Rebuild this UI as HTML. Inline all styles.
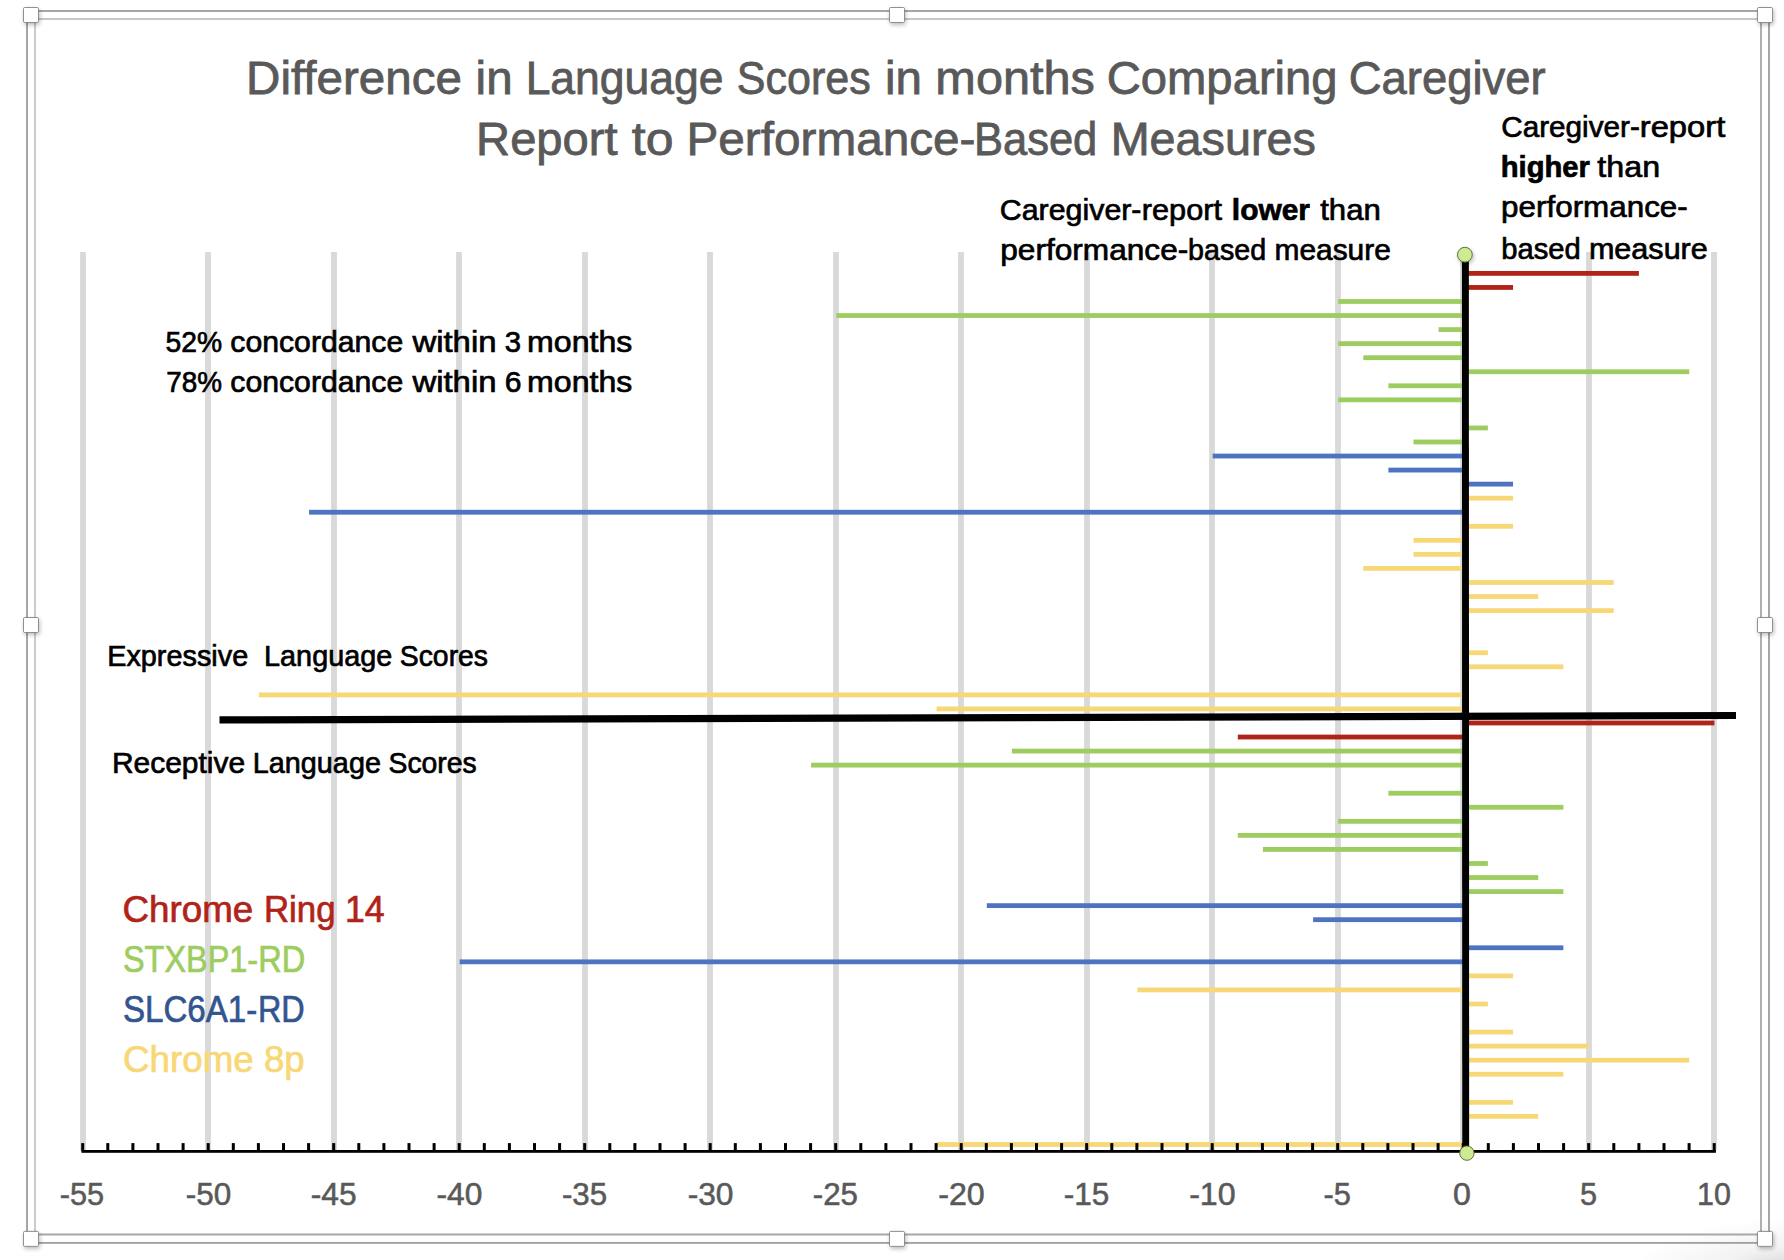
<!DOCTYPE html>
<html lang="en"><head><meta charset="utf-8"><title>Difference in Language Scores</title>
<style>html,body{margin:0;padding:0;background:#fff}body{width:1784px;height:1260px;overflow:hidden}svg{display:block}text{font-family:"Liberation Sans",Arial,sans-serif}</style></head><body>
<svg width="1784" height="1260" viewBox="0 0 1784 1260">
<defs><linearGradient id="bg" x1="0" y1="0" x2="1" y2="1"><stop offset="0" stop-color="#fff"/><stop offset="0.5" stop-color="#fff"/><stop offset="1" stop-color="#e9e9e9"/></linearGradient><radialGradient id="cs"><stop offset="0" stop-color="#000" stop-opacity="0.17"/><stop offset="0.45" stop-color="#000" stop-opacity="0.05"/><stop offset="1" stop-color="#000" stop-opacity="0"/></radialGradient><filter id="sh" x="-50%" y="-50%" width="200%" height="200%"><feGaussianBlur in="SourceAlpha" stdDeviation="2.3"/><feOffset dx="0.6" dy="1.6" result="b"/><feComponentTransfer><feFuncA type="linear" slope="0.27"/></feComponentTransfer><feMerge><feMergeNode/><feMergeNode in="SourceGraphic"/></feMerge></filter></defs>
<rect width="1784" height="1260" fill="#fff"/>
<ellipse cx="1796" cy="1270" rx="160" ry="52" fill="url(#cs)"/>
<rect x="27" y="11" width="1742" height="1231.9" fill="none" stroke="#a2a2a2" stroke-width="1.9"/>
<path d="M35 1234.5V19H1761" fill="none" stroke="#c6c6c6" stroke-width="1.8"/>
<path d="M35 1234.5H1761V19" fill="none" stroke="#a8a8a8" stroke-width="1.8"/>
<rect x="80.10" y="252" width="5.8" height="898.0" fill="#d9d9d9"/>
<rect x="205.10" y="252" width="5.8" height="898.0" fill="#d9d9d9"/>
<rect x="331.10" y="252" width="5.8" height="898.0" fill="#d9d9d9"/>
<rect x="456.10" y="252" width="5.8" height="898.0" fill="#d9d9d9"/>
<rect x="582.10" y="252" width="5.8" height="898.0" fill="#d9d9d9"/>
<rect x="707.10" y="252" width="5.8" height="898.0" fill="#d9d9d9"/>
<rect x="833.10" y="252" width="5.8" height="898.0" fill="#d9d9d9"/>
<rect x="958.10" y="252" width="5.8" height="898.0" fill="#d9d9d9"/>
<rect x="1084.10" y="252" width="5.8" height="898.0" fill="#d9d9d9"/>
<rect x="1209.10" y="252" width="5.8" height="898.0" fill="#d9d9d9"/>
<rect x="1335.10" y="252" width="5.8" height="898.0" fill="#d9d9d9"/>
<rect x="1460.10" y="252" width="5.8" height="898.0" fill="#d9d9d9"/>
<rect x="1586.10" y="252" width="5.8" height="898.0" fill="#d9d9d9"/>
<rect x="1711.10" y="252" width="5.8" height="898.0" fill="#d9d9d9"/>
<rect x="1465.50" y="270.98" width="173.39" height="4.8" fill="#b02318"/>
<rect x="1465.50" y="285.03" width="47.54" height="4.8" fill="#b02318"/>
<rect x="1338.20" y="299.08" width="127.30" height="4.8" fill="#9dcc61"/>
<rect x="836.20" y="313.13" width="629.30" height="4.8" fill="#9dcc61"/>
<rect x="1438.60" y="327.18" width="26.90" height="4.8" fill="#9dcc61"/>
<rect x="1338.20" y="341.23" width="127.30" height="4.8" fill="#9dcc61"/>
<rect x="1363.30" y="355.28" width="102.20" height="4.8" fill="#9dcc61"/>
<rect x="1465.50" y="369.33" width="223.73" height="4.8" fill="#9dcc61"/>
<rect x="1388.40" y="383.38" width="77.10" height="4.8" fill="#9dcc61"/>
<rect x="1338.20" y="397.43" width="127.30" height="4.8" fill="#9dcc61"/>
<rect x="1465.50" y="425.53" width="22.37" height="4.8" fill="#9dcc61"/>
<rect x="1413.50" y="439.58" width="52.00" height="4.8" fill="#9dcc61"/>
<rect x="1212.70" y="453.63" width="252.80" height="4.8" fill="#4e73c1"/>
<rect x="1388.40" y="467.68" width="77.10" height="4.8" fill="#4e73c1"/>
<rect x="1465.50" y="481.73" width="47.54" height="4.8" fill="#4e73c1"/>
<rect x="1465.50" y="495.78" width="47.54" height="4.8" fill="#f8d776"/>
<rect x="309.10" y="509.83" width="1156.40" height="4.8" fill="#4e73c1"/>
<rect x="1465.50" y="523.88" width="47.54" height="4.8" fill="#f8d776"/>
<rect x="1413.50" y="537.93" width="52.00" height="4.8" fill="#f8d776"/>
<rect x="1413.50" y="551.98" width="52.00" height="4.8" fill="#f8d776"/>
<rect x="1363.30" y="566.02" width="102.20" height="4.8" fill="#f8d776"/>
<rect x="1465.50" y="580.08" width="148.22" height="4.8" fill="#f8d776"/>
<rect x="1465.50" y="594.13" width="72.71" height="4.8" fill="#f8d776"/>
<rect x="1465.50" y="608.18" width="148.22" height="4.8" fill="#f8d776"/>
<rect x="1465.50" y="650.33" width="22.37" height="4.8" fill="#f8d776"/>
<rect x="1465.50" y="664.38" width="97.88" height="4.8" fill="#f8d776"/>
<rect x="258.90" y="692.48" width="1206.60" height="4.8" fill="#f8d776"/>
<rect x="936.60" y="706.52" width="528.90" height="4.8" fill="#f8d776"/>
<rect x="1465.50" y="720.58" width="248.90" height="4.8" fill="#b02318"/>
<rect x="1237.80" y="734.63" width="227.70" height="4.8" fill="#b02318"/>
<rect x="1011.90" y="748.68" width="453.60" height="4.8" fill="#9dcc61"/>
<rect x="811.10" y="762.73" width="654.40" height="4.8" fill="#9dcc61"/>
<rect x="1388.40" y="790.83" width="77.10" height="4.8" fill="#9dcc61"/>
<rect x="1465.50" y="804.88" width="97.88" height="4.8" fill="#9dcc61"/>
<rect x="1338.20" y="818.93" width="127.30" height="4.8" fill="#9dcc61"/>
<rect x="1237.80" y="832.98" width="227.70" height="4.8" fill="#9dcc61"/>
<rect x="1262.90" y="847.02" width="202.60" height="4.8" fill="#9dcc61"/>
<rect x="1465.50" y="861.08" width="22.37" height="4.8" fill="#9dcc61"/>
<rect x="1465.50" y="875.13" width="72.71" height="4.8" fill="#9dcc61"/>
<rect x="1465.50" y="889.18" width="97.88" height="4.8" fill="#9dcc61"/>
<rect x="986.80" y="903.23" width="478.70" height="4.8" fill="#4e73c1"/>
<rect x="1313.10" y="917.27" width="152.40" height="4.8" fill="#4e73c1"/>
<rect x="1465.50" y="945.38" width="97.88" height="4.8" fill="#4e73c1"/>
<rect x="459.70" y="959.43" width="1005.80" height="4.8" fill="#4e73c1"/>
<rect x="1465.50" y="973.48" width="47.54" height="4.8" fill="#f8d776"/>
<rect x="1137.40" y="987.52" width="328.10" height="4.8" fill="#f8d776"/>
<rect x="1465.50" y="1001.58" width="22.37" height="4.8" fill="#f8d776"/>
<rect x="1465.50" y="1029.67" width="47.54" height="4.8" fill="#f8d776"/>
<rect x="1465.50" y="1043.72" width="123.05" height="4.8" fill="#f8d776"/>
<rect x="1465.50" y="1057.77" width="223.73" height="4.8" fill="#f8d776"/>
<rect x="1465.50" y="1071.83" width="97.88" height="4.8" fill="#f8d776"/>
<rect x="1465.50" y="1099.92" width="47.54" height="4.8" fill="#f8d776"/>
<rect x="1465.50" y="1113.97" width="72.71" height="4.8" fill="#f8d776"/>
<rect x="936.60" y="1142.08" width="528.90" height="4.8" fill="#f8d776"/>
<rect x="81.5" y="1150" width="1634.4" height="2.8" fill="#000"/>
<rect x="81.20" y="1143.1" width="3" height="8" fill="#000"/>
<rect x="106.30" y="1143.1" width="3" height="8" fill="#000"/>
<rect x="131.40" y="1143.1" width="3" height="8" fill="#000"/>
<rect x="156.50" y="1143.1" width="3" height="8" fill="#000"/>
<rect x="181.60" y="1143.1" width="3" height="8" fill="#000"/>
<rect x="206.70" y="1143.1" width="3" height="8" fill="#000"/>
<rect x="231.80" y="1143.1" width="3" height="8" fill="#000"/>
<rect x="256.90" y="1143.1" width="3" height="8" fill="#000"/>
<rect x="282.00" y="1143.1" width="3" height="8" fill="#000"/>
<rect x="307.10" y="1143.1" width="3" height="8" fill="#000"/>
<rect x="332.20" y="1143.1" width="3" height="8" fill="#000"/>
<rect x="357.30" y="1143.1" width="3" height="8" fill="#000"/>
<rect x="382.40" y="1143.1" width="3" height="8" fill="#000"/>
<rect x="407.50" y="1143.1" width="3" height="8" fill="#000"/>
<rect x="432.60" y="1143.1" width="3" height="8" fill="#000"/>
<rect x="457.70" y="1143.1" width="3" height="8" fill="#000"/>
<rect x="482.80" y="1143.1" width="3" height="8" fill="#000"/>
<rect x="507.90" y="1143.1" width="3" height="8" fill="#000"/>
<rect x="533.00" y="1143.1" width="3" height="8" fill="#000"/>
<rect x="558.10" y="1143.1" width="3" height="8" fill="#000"/>
<rect x="583.20" y="1143.1" width="3" height="8" fill="#000"/>
<rect x="608.30" y="1143.1" width="3" height="8" fill="#000"/>
<rect x="633.40" y="1143.1" width="3" height="8" fill="#000"/>
<rect x="658.50" y="1143.1" width="3" height="8" fill="#000"/>
<rect x="683.60" y="1143.1" width="3" height="8" fill="#000"/>
<rect x="708.70" y="1143.1" width="3" height="8" fill="#000"/>
<rect x="733.80" y="1143.1" width="3" height="8" fill="#000"/>
<rect x="758.90" y="1143.1" width="3" height="8" fill="#000"/>
<rect x="784.00" y="1143.1" width="3" height="8" fill="#000"/>
<rect x="809.10" y="1143.1" width="3" height="8" fill="#000"/>
<rect x="834.20" y="1143.1" width="3" height="8" fill="#000"/>
<rect x="859.30" y="1143.1" width="3" height="8" fill="#000"/>
<rect x="884.40" y="1143.1" width="3" height="8" fill="#000"/>
<rect x="909.50" y="1143.1" width="3" height="8" fill="#000"/>
<rect x="934.60" y="1143.1" width="3" height="8" fill="#000"/>
<rect x="959.70" y="1143.1" width="3" height="8" fill="#000"/>
<rect x="984.80" y="1143.1" width="3" height="8" fill="#000"/>
<rect x="1009.90" y="1143.1" width="3" height="8" fill="#000"/>
<rect x="1035.00" y="1143.1" width="3" height="8" fill="#000"/>
<rect x="1060.10" y="1143.1" width="3" height="8" fill="#000"/>
<rect x="1085.20" y="1143.1" width="3" height="8" fill="#000"/>
<rect x="1110.30" y="1143.1" width="3" height="8" fill="#000"/>
<rect x="1135.40" y="1143.1" width="3" height="8" fill="#000"/>
<rect x="1160.50" y="1143.1" width="3" height="8" fill="#000"/>
<rect x="1185.60" y="1143.1" width="3" height="8" fill="#000"/>
<rect x="1210.70" y="1143.1" width="3" height="8" fill="#000"/>
<rect x="1235.80" y="1143.1" width="3" height="8" fill="#000"/>
<rect x="1260.90" y="1143.1" width="3" height="8" fill="#000"/>
<rect x="1286.00" y="1143.1" width="3" height="8" fill="#000"/>
<rect x="1311.10" y="1143.1" width="3" height="8" fill="#000"/>
<rect x="1336.20" y="1143.1" width="3" height="8" fill="#000"/>
<rect x="1361.30" y="1143.1" width="3" height="8" fill="#000"/>
<rect x="1386.40" y="1143.1" width="3" height="8" fill="#000"/>
<rect x="1411.50" y="1143.1" width="3" height="8" fill="#000"/>
<rect x="1436.60" y="1143.1" width="3" height="8" fill="#000"/>
<rect x="1461.70" y="1143.1" width="3" height="8" fill="#000"/>
<rect x="1486.80" y="1143.1" width="3" height="8" fill="#000"/>
<rect x="1511.90" y="1143.1" width="3" height="8" fill="#000"/>
<rect x="1537.00" y="1143.1" width="3" height="8" fill="#000"/>
<rect x="1562.10" y="1143.1" width="3" height="8" fill="#000"/>
<rect x="1587.20" y="1143.1" width="3" height="8" fill="#000"/>
<rect x="1612.30" y="1143.1" width="3" height="8" fill="#000"/>
<rect x="1637.40" y="1143.1" width="3" height="8" fill="#000"/>
<rect x="1662.50" y="1143.1" width="3" height="8" fill="#000"/>
<rect x="1687.60" y="1143.1" width="3" height="8" fill="#000"/>
<rect x="1712.70" y="1143.1" width="3" height="8" fill="#000"/>
<text y="93.7" font-size="46.0" fill="#595959" stroke="#595959" stroke-width="0.80" xml:space="preserve"><tspan x="246.10" textLength="215.81" lengthAdjust="spacingAndGlyphs">Difference</tspan> <tspan x="475.62" textLength="36.96" lengthAdjust="spacingAndGlyphs">in</tspan> <tspan x="525.65" textLength="197.82" lengthAdjust="spacingAndGlyphs">Language</tspan> <tspan x="736.75" textLength="133.91" lengthAdjust="spacingAndGlyphs">Scores</tspan> <tspan x="884.92" textLength="36.96" lengthAdjust="spacingAndGlyphs">in</tspan> <tspan x="935.37" textLength="159.59" lengthAdjust="spacingAndGlyphs">months</tspan> <tspan x="1106.70" textLength="230.94" lengthAdjust="spacingAndGlyphs">Comparing</tspan> <tspan x="1348.69" textLength="196.96" lengthAdjust="spacingAndGlyphs">Caregiver</tspan></text>
<text y="155.3" font-size="46.0" fill="#595959" stroke="#595959" stroke-width="0.80" xml:space="preserve"><tspan x="476.14" textLength="141.41" lengthAdjust="spacingAndGlyphs">Report</tspan> <tspan x="631.84" textLength="41.65" lengthAdjust="spacingAndGlyphs">to</tspan> <tspan x="686.49" textLength="289.03" lengthAdjust="spacingAndGlyphs">Performance-</tspan><tspan x="973.93" textLength="123.37" lengthAdjust="spacingAndGlyphs">Based</tspan> <tspan x="1110.67" textLength="205.22" lengthAdjust="spacingAndGlyphs">Measures</tspan></text>
<text y="220.0" font-size="30.0" fill="#000" stroke="#000" stroke-width="0.70" xml:space="preserve"><tspan x="999.81" textLength="141.69" lengthAdjust="spacingAndGlyphs">Caregiver-</tspan><tspan x="1141.81" textLength="80.16" lengthAdjust="spacingAndGlyphs">report</tspan> <tspan x="1231.86" textLength="78.14" lengthAdjust="spacingAndGlyphs" font-weight="bold">lower</tspan> <tspan x="1320.18" textLength="60.59" lengthAdjust="spacingAndGlyphs">than</tspan></text>
<text y="259.7" font-size="30.0" fill="#000" stroke="#000" stroke-width="0.70" xml:space="preserve"><tspan x="1000.31" textLength="187.94" lengthAdjust="spacingAndGlyphs">performance-</tspan><tspan x="1188.00" textLength="78.09" lengthAdjust="spacingAndGlyphs">based</tspan> <tspan x="1274.46" textLength="116.42" lengthAdjust="spacingAndGlyphs">measure</tspan></text>
<text y="137.3" font-size="30.0" fill="#000" stroke="#000" stroke-width="0.70" xml:space="preserve"><tspan x="1501.24" textLength="138.63" lengthAdjust="spacingAndGlyphs">Caregiver-</tspan><tspan x="1639.78" textLength="85.51" lengthAdjust="spacingAndGlyphs">report</tspan></text>
<text y="177.1" font-size="30.0" fill="#000" stroke="#000" stroke-width="0.70" xml:space="preserve"><tspan x="1500.71" textLength="89.18" lengthAdjust="spacingAndGlyphs" font-weight="bold">higher</tspan> <tspan x="1597.36" textLength="62.68" lengthAdjust="spacingAndGlyphs">than</tspan></text>
<text y="217.1" font-size="30.0" fill="#000" stroke="#000" stroke-width="0.70" xml:space="preserve"><tspan x="1501.13" textLength="186.62" lengthAdjust="spacingAndGlyphs">performance-</tspan></text>
<text y="258.9" font-size="30.0" fill="#000" stroke="#000" stroke-width="0.70" xml:space="preserve"><tspan x="1501.27" textLength="79.46" lengthAdjust="spacingAndGlyphs">based</tspan> <tspan x="1588.92" textLength="118.89" lengthAdjust="spacingAndGlyphs">measure</tspan></text>
<text y="352.0" font-size="30.0" fill="#000" stroke="#000" stroke-width="0.70" xml:space="preserve"><tspan x="165.52" textLength="56.64" lengthAdjust="spacingAndGlyphs">52%</tspan> <tspan x="230.37" textLength="172.82" lengthAdjust="spacingAndGlyphs">concordance</tspan> <tspan x="412.40" textLength="84.09" lengthAdjust="spacingAndGlyphs">within</tspan> <tspan x="504.63" textLength="16.30" lengthAdjust="spacingAndGlyphs">3</tspan> <tspan x="527.12" textLength="105.19" lengthAdjust="spacingAndGlyphs">months</tspan></text>
<text y="391.8" font-size="30.0" fill="#000" stroke="#000" stroke-width="0.70" xml:space="preserve"><tspan x="166.32" textLength="55.82" lengthAdjust="spacingAndGlyphs">78%</tspan> <tspan x="230.37" textLength="172.82" lengthAdjust="spacingAndGlyphs">concordance</tspan> <tspan x="412.40" textLength="84.09" lengthAdjust="spacingAndGlyphs">within</tspan> <tspan x="504.72" textLength="16.75" lengthAdjust="spacingAndGlyphs">6</tspan> <tspan x="527.12" textLength="105.19" lengthAdjust="spacingAndGlyphs">months</tspan></text>
<text y="666.0" font-size="30.0" fill="#000" stroke="#000" stroke-width="0.70" xml:space="preserve"><tspan x="107.18" textLength="141.05" lengthAdjust="spacingAndGlyphs">Expressive</tspan>  <tspan x="264.09" textLength="128.14" lengthAdjust="spacingAndGlyphs">Language</tspan> <tspan x="399.76" textLength="88.31" lengthAdjust="spacingAndGlyphs">Scores</tspan></text>
<text y="772.5" font-size="30.0" fill="#000" stroke="#000" stroke-width="0.70" xml:space="preserve"><tspan x="111.89" textLength="133.29" lengthAdjust="spacingAndGlyphs">Receptive</tspan> <tspan x="252.79" textLength="128.14" lengthAdjust="spacingAndGlyphs">Language</tspan> <tspan x="388.46" textLength="88.31" lengthAdjust="spacingAndGlyphs">Scores</tspan></text>
<text y="922.4" font-size="37.0" fill="#b02318" stroke="#b02318" stroke-width="0.70" xml:space="preserve"><tspan x="122.59" textLength="130.60" lengthAdjust="spacingAndGlyphs">Chrome</tspan> <tspan x="263.99" textLength="71.60" lengthAdjust="spacingAndGlyphs">Ring</tspan> <tspan x="345.03" textLength="39.66" lengthAdjust="spacingAndGlyphs">14</tspan></text>
<text y="972.2" font-size="37.0" fill="#9dcc61" stroke="#9dcc61" stroke-width="0.70" xml:space="preserve"><tspan x="122.98" textLength="135.11" lengthAdjust="spacingAndGlyphs">STXBP1-</tspan><tspan x="258.28" textLength="47.03" lengthAdjust="spacingAndGlyphs">RD</tspan></text>
<text y="1022.4" font-size="37.0" fill="#33558f" stroke="#33558f" stroke-width="0.70" xml:space="preserve"><tspan x="122.95" textLength="134.27" lengthAdjust="spacingAndGlyphs">SLC6A1-</tspan><tspan x="258.00" textLength="46.70" lengthAdjust="spacingAndGlyphs">RD</tspan></text>
<text y="1072.1" font-size="37.0" fill="#f8d776" stroke="#f8d776" stroke-width="0.70" xml:space="preserve"><tspan x="123.09" textLength="130.60" lengthAdjust="spacingAndGlyphs">Chrome</tspan> <tspan x="263.96" textLength="40.73" lengthAdjust="spacingAndGlyphs">8p</tspan></text>
<text y="1205.0" font-size="31.4" fill="#595959" stroke="#595959" stroke-width="0.55" xml:space="preserve"><tspan x="59.81" textLength="44.41" lengthAdjust="spacingAndGlyphs">-55</tspan> <tspan x="185.88" textLength="45.48" lengthAdjust="spacingAndGlyphs">-50</tspan> <tspan x="310.66" textLength="45.89" lengthAdjust="spacingAndGlyphs">-45</tspan> <tspan x="436.47" textLength="45.80" lengthAdjust="spacingAndGlyphs">-40</tspan> <tspan x="561.88" textLength="45.26" lengthAdjust="spacingAndGlyphs">-35</tspan> <tspan x="687.67" textLength="45.80" lengthAdjust="spacingAndGlyphs">-30</tspan> <tspan x="812.78" textLength="45.26" lengthAdjust="spacingAndGlyphs">-25</tspan> <tspan x="938.24" textLength="46.54" lengthAdjust="spacingAndGlyphs">-20</tspan> <tspan x="1063.67" textLength="45.58" lengthAdjust="spacingAndGlyphs">-15</tspan> <tspan x="1189.15" textLength="46.43" lengthAdjust="spacingAndGlyphs">-10</tspan> <tspan x="1323.51" textLength="27.41" lengthAdjust="spacingAndGlyphs">-5</tspan> <tspan x="1453.12" textLength="17.86" lengthAdjust="spacingAndGlyphs">0</tspan> <tspan x="1580.05" textLength="17.07" lengthAdjust="spacingAndGlyphs">5</tspan> <tspan x="1696.96" textLength="33.86" lengthAdjust="spacingAndGlyphs">10</tspan></text>
<line x1="219.5" y1="719.9" x2="1736" y2="715.5" stroke="#000" stroke-width="7.2"/>
<line x1="1465.4" y1="255" x2="1465.7" y2="1153" stroke="#000" stroke-width="6.9"/>
<circle cx="1464.9" cy="254.7" r="7.4" fill="#cdeb93" stroke="#5f6f35" stroke-width="1" filter="url(#sh)"/>
<circle cx="1466.9" cy="1153.1" r="7.2" fill="#cdeb93" stroke="#5f6f35" stroke-width="1"/>
<rect x="23.5" y="7.5" width="15" height="15" rx="1.2" fill="#fff" stroke="#838383" stroke-width="0.9" filter="url(#sh)"/>
<rect x="889.5" y="7.5" width="15" height="15" rx="1.2" fill="#fff" stroke="#838383" stroke-width="0.9" filter="url(#sh)"/>
<rect x="1757.5" y="7.5" width="15" height="15" rx="1.2" fill="#fff" stroke="#838383" stroke-width="0.9" filter="url(#sh)"/>
<rect x="23.5" y="617.5" width="15" height="15" rx="1.2" fill="#fff" stroke="#838383" stroke-width="0.9" filter="url(#sh)"/>
<rect x="1757.5" y="617.5" width="15" height="15" rx="1.2" fill="#fff" stroke="#838383" stroke-width="0.9" filter="url(#sh)"/>
<rect x="23.5" y="1231.4" width="15" height="15" rx="1.2" fill="#fff" stroke="#838383" stroke-width="0.9" filter="url(#sh)"/>
<rect x="889.5" y="1231.4" width="15" height="15" rx="1.2" fill="#fff" stroke="#838383" stroke-width="0.9" filter="url(#sh)"/>
<rect x="1757.5" y="1231.4" width="15" height="15" rx="1.2" fill="#fff" stroke="#838383" stroke-width="0.9" filter="url(#sh)"/>
</svg></body></html>
